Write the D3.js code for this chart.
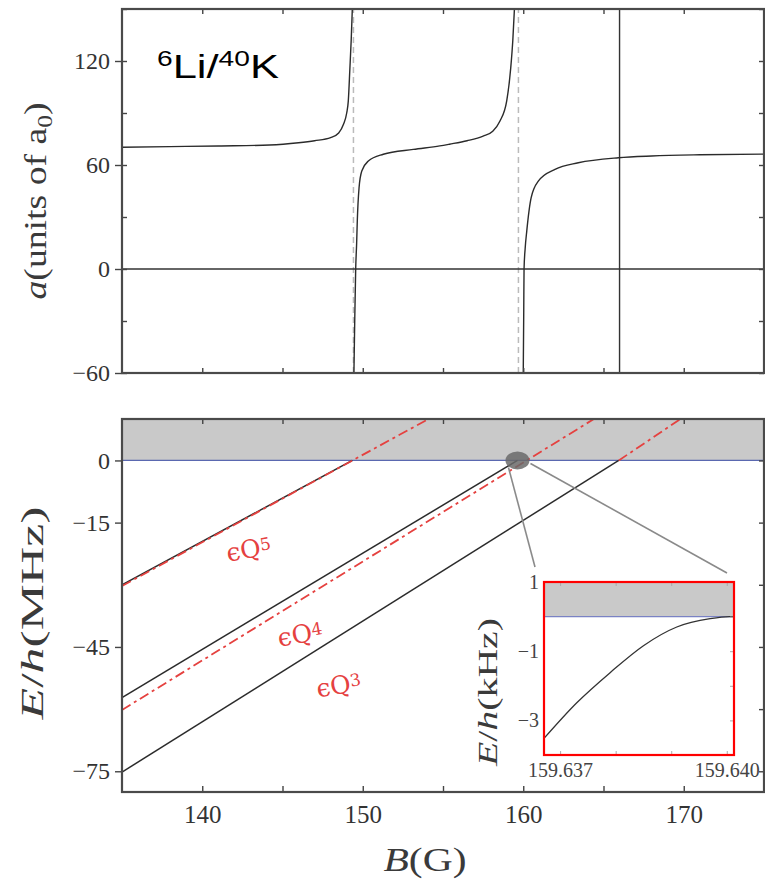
<!DOCTYPE html>
<html>
<head>
<meta charset="utf-8">
<script src="https://cdn.jsdelivr.net/npm/d3@7"></script>
<style>
  body { margin: 0; background: #fff; }
  svg { display: block; }
</style>
</head>
<body>
<svg width="765" height="883"></svg>
<script>
// scattering length a(B), units of a0 -- three branches between the poles
const branch1 = [[135, 70.2], [138, 70.6], [141, 71.0], [144.2, 71.5], [146, 72.8], [147, 74.0], [148, 75.8],
  [148.5, 78.5], [148.8, 83.5], [149.0, 90], [149.1, 97], [149.2, 116], [149.28, 132], [149.35, 150]];
const branch2 = [[149.45, -60], [149.5, -30], [149.56, 0], [149.62, 15], [149.66, 27.7], [149.77, 46.9],
  [149.94, 56.5], [150.35, 62.3], [151.28, 66.2], [153.15, 69], [154.8, 71], [155.4, 72], [156.5, 74],
  [157.5, 76.7], [158.1, 79.5], [158.55, 85.4], [158.97, 97], [159.22, 116], [159.35, 132], [159.45, 150]];
const branch3 = [[160.0, -60], [160.03, -25], [160.05, 0], [160.12, 12], [160.22, 22], [160.49, 41],
  [160.95, 50.8], [161.98, 57.5], [163.43, 61.3], [165.93, 64.2], [168, 65.2], [171, 65.9], [175, 66.3]];
const poles = [149.42, 159.7];
const markerB = 166.0;

// bound state energies E/h (MHz)
const boundLines = [
  [[135, -30.0], [149.35, 0]],
  [[135, -57.2], [159.64, 0]],
  [[135, -75.2], [165.95, 0]]
];
const closedLines = [
  [[135, -30.3], [154.1, 10]],
  [[135, -60.2], [164.4, 10]],
  [[165.95, 0], [169.8, 10]]
];
const qNames = ['5', '4', '3'];
const qLabelB = [142.9, 146.1, 148.5];
const qLabelE = [-21.4, -41.9, -54.2];
const zoomPoint = [159.64, 0];

// inset, E/h in kHz
const insetCurve = [[159.63671, -3.52], [159.6373, -2.49], [159.6379, -1.62], [159.6385, -0.84],
  [159.6391, -0.30], [159.6397, -0.06], [159.64005, 0], [159.64013, 0]];

const xTicks = [140, 145, 150, 155, 160, 165, 170];
const xTickLabels = [140, 150, 160, 170];
const aTicks = [-60, -30, 0, 30, 60, 90, 120, 150];
const aTickLabels = [-60, 0, 60, 120];
const eTicks = [-75, -60, -45, -30, -15, 0];
const eTickLabels = [-75, -45, -15, 0];
const insetXTicks = [159.637, 159.638, 159.639, 159.640];
const insetXTickLabels = [159.637, 159.640];
const insetYTicks = [-3, -2, -1, 0, 1];
const insetYTickLabels = [1, -1, -3];

const svg = d3.select('svg');
const serif = '"Liberation Serif", "DejaVu Serif", serif';

const x = d3.scaleLinear().domain([135, 175]).range([122, 764]);
const yA = d3.scaleLinear().domain([-60, 150]).range([373, 9]);
const yE = d3.scaleLinear().domain([-80, 10]).range([792, 419]);
const ix = d3.scaleLinear().domain([159.63671, 159.64013]).range([544, 734]);
const iy = d3.scaleLinear().domain([-4, 1]).range([755, 582]);

const defs = svg.append('defs');
defs.append('clipPath').attr('id', 'clipTop').append('rect')
  .attr('x', x.range()[0]).attr('y', yA.range()[1])
  .attr('width', x.range()[1] - x.range()[0]).attr('height', yA.range()[0] - yA.range()[1]);
defs.append('clipPath').attr('id', 'clipBot').append('rect')
  .attr('x', x.range()[0]).attr('y', yE.range()[1])
  .attr('width', x.range()[1] - x.range()[0]).attr('height', yE.range()[0] - yE.range()[1]);

const styleAxis = (sel, size) => {
  sel.attr('font-family', null);
  sel.select('.domain').remove();
  sel.selectAll('.tick line').attr('stroke', '#444').attr('stroke-width', 1.4);
  sel.selectAll('.tick text').attr('fill', '#333')
    .style('font-family', serif).style('font-size', size + 'px');
};

// ---------- upper panel: scattering length ----------
const upper = svg.append('g');
const upperPlot = upper.append('g').attr('clip-path', 'url(#clipTop)');

upperPlot.selectAll('line.pole')
  .data(poles)
  .enter()
  .append('line')
  .attr('class', 'pole')
  .attr('x1', (d) => x(d)).attr('x2', (d) => x(d))
  .attr('y1', yA.range()[0]).attr('y2', yA.range()[1])
  .attr('stroke', '#bbb').attr('stroke-width', 1.5).attr('stroke-dasharray', '6,4');

upperPlot.append('line')
  .attr('x1', x.range()[0]).attr('x2', x.range()[1])
  .attr('y1', yA(0)).attr('y2', yA(0))
  .attr('stroke', '#333').attr('stroke-width', 1.3);

upperPlot.append('line')
  .attr('x1', x(markerB)).attr('x2', x(markerB))
  .attr('y1', yA.range()[0]).attr('y2', yA.range()[1])
  .attr('stroke', '#333').attr('stroke-width', 1.4);

const aLine = d3.line().x((d) => x(d[0])).y((d) => yA(d[1])).curve(d3.curveMonotoneX);
upperPlot.selectAll('path.branch')
  .data([branch1, branch2, branch3])
  .enter()
  .append('path')
  .attr('class', 'branch')
  .attr('d', aLine)
  .attr('fill', 'none').attr('stroke', '#2b2b2b').attr('stroke-width', 1.4);

upper.append('g').attr('transform', `translate(0,${yA.range()[1]})`)
  .call(d3.axisTop(x).tickValues(xTicks).tickSize(-5).tickFormat(''))
  .call(styleAxis, 24);
upper.append('g').attr('transform', `translate(0,${yA.range()[0]})`)
  .call(d3.axisBottom(x).tickValues(xTicks).tickSize(-5).tickFormat(''))
  .call(styleAxis, 24);
upper.append('g').attr('transform', `translate(${x.range()[0]},0)`)
  .call(d3.axisLeft(yA).tickValues(aTickLabels).tickSize(7).tickPadding(5))
  .call(styleAxis, 24);
upper.append('g').attr('transform', `translate(${x.range()[0]},0)`)
  .call(d3.axisLeft(yA).tickValues(aTicks).tickSize(-5).tickFormat(''))
  .call(styleAxis, 24);
upper.append('g').attr('transform', `translate(${x.range()[1]},0)`)
  .call(d3.axisRight(yA).tickValues(aTicks).tickSize(-5).tickFormat(''))
  .call(styleAxis, 24);

upper.append('rect')
  .attr('x', x.range()[0]).attr('y', yA.range()[1])
  .attr('width', x.range()[1] - x.range()[0]).attr('height', yA.range()[0] - yA.range()[1])
  .attr('fill', 'none').attr('stroke', '#4a4a4a').attr('stroke-width', 2.2);

const aLabel = upper.append('text')
  .attr('transform', 'translate(46,201) rotate(-90)')
  .attr('text-anchor', 'middle')
  .attr('textLength', 197).attr('lengthAdjust', 'spacingAndGlyphs')
  .style('font-family', serif).style('font-size', '31px').attr('fill', '#3a3a3a');
aLabel.append('tspan').style('font-style', 'italic').text('a');
aLabel.append('tspan').text('(units of a');
aLabel.append('tspan').attr('dy', 6).style('font-size', '21px').text('0');
aLabel.append('tspan').attr('dy', -6).text(')');

const species = upper.append('text')
  .attr('x', 157).attr('y', 78)
  .attr('textLength', 122).attr('lengthAdjust', 'spacingAndGlyphs')
  .style('font-family', '"Liberation Sans", Arial, sans-serif').style('font-size', '34px').attr('fill', '#000');
species.append('tspan').attr('dy', -12).style('font-size', '22px').text('6');
species.append('tspan').attr('dy', 12).text('Li/');
species.append('tspan').attr('dy', -12).style('font-size', '22px').text('40');
species.append('tspan').attr('dy', 12).text('K');

// ---------- lower panel: bound states ----------
const lower = svg.append('g');
const lowerPlot = lower.append('g').attr('clip-path', 'url(#clipBot)');

lowerPlot.append('rect')
  .attr('x', x.range()[0]).attr('y', yE(10))
  .attr('width', x.range()[1] - x.range()[0]).attr('height', yE(0) - yE(10))
  .attr('fill', '#c9c9c9');
lowerPlot.append('line')
  .attr('x1', x.range()[0]).attr('x2', x.range()[1])
  .attr('y1', yE(0)).attr('y2', yE(0))
  .attr('stroke', '#5a68b0').attr('stroke-width', 1.3);

const eLine = d3.line().x((d) => x(d[0])).y((d) => yE(d[1]));
lowerPlot.selectAll('path.bound')
  .data(boundLines)
  .enter()
  .append('path')
  .attr('class', 'bound')
  .attr('d', eLine)
  .attr('fill', 'none').attr('stroke', '#2b2b2b').attr('stroke-width', 1.5);
lowerPlot.selectAll('path.closed')
  .data(closedLines)
  .enter()
  .append('path')
  .attr('class', 'closed')
  .attr('d', eLine)
  .attr('fill', 'none').attr('stroke', '#e5413f').attr('stroke-width', 1.8)
  .attr('stroke-dasharray', '10,4,3,4');

lower.selectAll('text.qlabel')
  .data(qNames)
  .enter()
  .append('text')
  .attr('class', 'qlabel')
  .attr('transform', (d, i) => `translate(${x(qLabelB[i])},${yE(qLabelE[i])}) rotate(-10)`)
  .attr('text-anchor', 'middle').attr('dy', '0.35em')
  .style('font-family', '"DejaVu Serif", serif').style('font-size', '25px').attr('fill', '#e5413f')
  .each(function (d) {
    const t = d3.select(this);
    t.append('tspan').text('ϵQ');
    t.append('tspan').attr('dy', -5).style('font-size', '17px').text(d);
  });

// zoom marker and connectors to the inset
const zx = x(zoomPoint[0]);
const zy = yE(zoomPoint[1]);
lower.append('line')
  .attr('x1', zx - 9).attr('y1', zy + 7)
  .attr('x2', ix.range()[0] - 9).attr('y2', iy.range()[1] - 15)
  .attr('stroke', '#8a8a8a').attr('stroke-width', 1.6);
lower.append('line')
  .attr('x1', zx + 13).attr('y1', zy + 3)
  .attr('x2', ix.range()[1] - 7).attr('y2', iy.range()[1] - 9)
  .attr('stroke', '#8a8a8a').attr('stroke-width', 1.6);
lower.append('ellipse')
  .attr('cx', zx).attr('cy', zy).attr('rx', 12).attr('ry', 9)
  .attr('fill', '#6a6a6a').attr('fill-opacity', 0.85);

lower.append('g').attr('transform', `translate(0,${yE.range()[1]})`)
  .call(d3.axisTop(x).tickValues(xTicks).tickSize(-5).tickFormat(''))
  .call(styleAxis, 24);
lower.append('g').attr('transform', `translate(0,${yE.range()[0]})`)
  .call(d3.axisBottom(x).tickValues(xTicks).tickSize(-6).tickPadding(13)
    .tickFormat((d) => (xTickLabels.includes(d) ? d : '')))
  .call(styleAxis, 25);
lower.append('g').attr('transform', `translate(${x.range()[0]},0)`)
  .call(d3.axisLeft(yE).tickValues(eTickLabels).tickSize(7).tickPadding(5))
  .call(styleAxis, 24);
lower.append('g').attr('transform', `translate(${x.range()[1]},0)`)
  .call(d3.axisRight(yE).tickValues(eTicks).tickSize(-5).tickFormat(''))
  .call(styleAxis, 24);

lower.append('rect')
  .attr('x', x.range()[0]).attr('y', yE.range()[1])
  .attr('width', x.range()[1] - x.range()[0]).attr('height', yE.range()[0] - yE.range()[1])
  .attr('fill', 'none').attr('stroke', '#4a4a4a').attr('stroke-width', 2.2);

const eLabel = lower.append('text')
  .attr('transform', 'translate(43,613) rotate(-90)')
  .attr('text-anchor', 'middle')
  .attr('textLength', 213).attr('lengthAdjust', 'spacingAndGlyphs')
  .style('font-family', serif).style('font-size', '32px').attr('fill', '#3a3a3a');
eLabel.append('tspan').style('font-style', 'italic').text('E');
eLabel.append('tspan').text('/');
eLabel.append('tspan').style('font-style', 'italic').text('h');
eLabel.append('tspan').text('(MHz)');

const bLabel = svg.append('text')
  .attr('x', 425).attr('y', 871)
  .attr('text-anchor', 'middle')
  .attr('textLength', 83).attr('lengthAdjust', 'spacingAndGlyphs')
  .style('font-family', serif).style('font-size', '33px').attr('fill', '#3a3a3a');
bLabel.append('tspan').style('font-style', 'italic').text('B');
bLabel.append('tspan').text('(G)');

// ---------- inset ----------
const inset = svg.append('g');
inset.append('rect')
  .attr('x', ix.range()[0]).attr('y', iy.range()[1])
  .attr('width', ix.range()[1] - ix.range()[0]).attr('height', iy.range()[0] - iy.range()[1])
  .attr('fill', '#fff');
inset.append('rect')
  .attr('x', ix.range()[0]).attr('y', iy(1))
  .attr('width', ix.range()[1] - ix.range()[0]).attr('height', iy(0) - iy(1))
  .attr('fill', '#c9c9c9');
inset.append('line')
  .attr('x1', ix.range()[0]).attr('x2', ix.range()[1])
  .attr('y1', iy(0)).attr('y2', iy(0))
  .attr('stroke', '#7a82c4').attr('stroke-width', 1.2);
inset.append('path')
  .datum(insetCurve)
  .attr('d', d3.line().x((d) => ix(d[0])).y((d) => iy(d[1])).curve(d3.curveMonotoneX))
  .attr('fill', 'none').attr('stroke', '#333').attr('stroke-width', 1.3);

const styleInset = (sel) => {
  sel.attr('font-family', null);
  sel.select('.domain').remove();
  sel.selectAll('.tick line').attr('stroke', '#aaa').attr('stroke-width', 1);
  sel.selectAll('.tick text').attr('fill', '#444')
    .style('font-family', serif).style('font-size', '20px');
};
inset.append('g').attr('transform', `translate(0,${iy.range()[1]})`)
  .call(d3.axisTop(ix).tickValues(insetXTicks).tickSize(-4).tickFormat(''))
  .call(styleInset);
inset.append('g').attr('transform', `translate(0,${iy.range()[0]})`)
  .call(d3.axisBottom(ix).tickValues(insetXTicks).tickSize(-4).tickFormat(''))
  .call(styleInset);
inset.append('g').attr('transform', `translate(0,${iy.range()[0]})`)
  .call(d3.axisBottom(ix).tickValues(insetXTickLabels).tickSize(0).tickPadding(8).tickFormat(d3.format('.3f')))
  .call(styleInset);
inset.append('g').attr('transform', `translate(${ix.range()[1]},0)`)
  .call(d3.axisRight(iy).tickValues(insetYTicks).tickSize(-4).tickFormat(''))
  .call(styleInset);
inset.append('g').attr('transform', `translate(${ix.range()[0]},0)`)
  .call(d3.axisLeft(iy).tickValues(insetYTickLabels).tickSize(0).tickPadding(5).tickFormat(d3.format('d')))
  .call(styleInset);

inset.append('rect')
  .attr('x', ix.range()[0]).attr('y', iy.range()[1])
  .attr('width', ix.range()[1] - ix.range()[0]).attr('height', iy.range()[0] - iy.range()[1])
  .attr('fill', 'none').attr('stroke', '#f00').attr('stroke-width', 2.2);

const iLabel = inset.append('text')
  .attr('transform', 'translate(497,692) rotate(-90)')
  .attr('text-anchor', 'middle')
  .attr('textLength', 148).attr('lengthAdjust', 'spacingAndGlyphs')
  .style('font-family', serif).style('font-size', '28px').attr('fill', '#3a3a3a');
iLabel.append('tspan').style('font-style', 'italic').text('E');
iLabel.append('tspan').text('/');
iLabel.append('tspan').style('font-style', 'italic').text('h');
iLabel.append('tspan').text('(kHz)');
</script>
</body>
</html>
